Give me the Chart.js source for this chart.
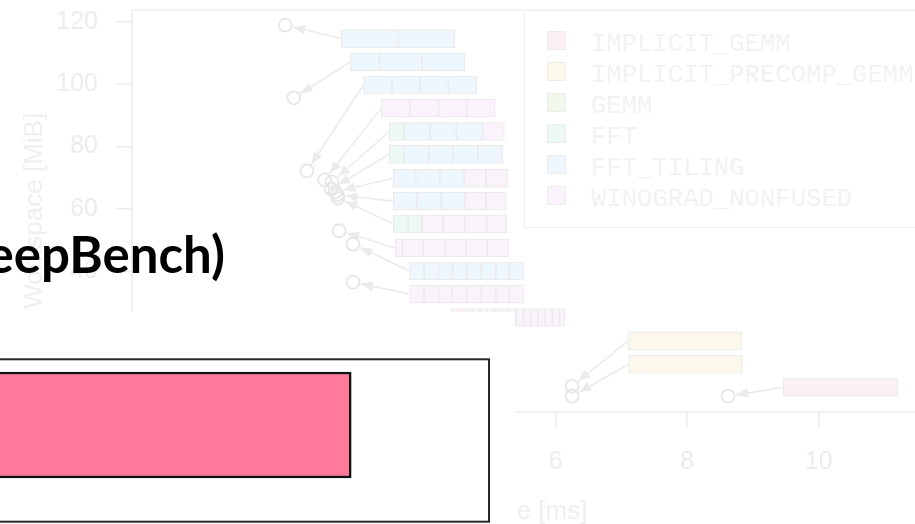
<!DOCTYPE html>
<html>
<head>
<meta charset="utf-8">
<script src="https://cdn.jsdelivr.net/npm/chart.js@4/dist/chart.umd.min.js"></script>
<style>
  html, body { margin: 0; padding: 0; width: 915px; height: 524px; overflow: hidden; background: #fff; }
  #bg { position: absolute; left: 0; top: 0; }
  #legendBox { position: absolute; left: 524px; top: 9.5px; width: 402px; height: 218px; border: 1.5px solid #efefef; box-sizing: border-box; }
  .key { position: absolute; width: 19px; height: 19px; box-sizing: border-box; border: 1px solid #ececec; }
  .keyText { position: absolute; font-family: "Liberation Mono", monospace; font-size: 25.6px; line-height: 1; color: #f3f1f1; white-space: nowrap; }
  #front { position: absolute; left: 0; top: 312px; width: 515px; height: 212px; background: #fff; overflow: hidden; }
  #fg { position: absolute; left: -400px; top: 0; }
  #title { position: absolute; right: 690px; top: 228px; font-family: Lato, "Open Sans", sans-serif; font-weight: bold; font-size: 51px; line-height: 1; color: #000; white-space: nowrap; }
</style>
</head>
<body>
<canvas id="bg" width="960" height="540"></canvas>
<div id="legendBox"></div>
<div id="front"><canvas id="fg" width="915" height="212"></canvas></div>
<div id="title">(DeepBench)</div>

<script>
// algorithms (legend)
const algoNames = ['IMPLICIT_GEMM', 'IMPLICIT_PRECOMP_GEMM', 'GEMM', 'FFT', 'FFT_TILING', 'WINOGRAD_NONFUSED'];
const algoCodes = ['I', 'P', 'G', 'F', 'T', 'W'];

// measured points: runtime [ms] vs workspace [MiB]
const pointTime = [1.89, 2.02, 2.22, 2.49, 2.60, 2.59, 2.65, 2.68, 2.69, 2.71, 2.92, 2.92, 3.20, 6.25, 6.25, 8.62];
const pointWorkspace = [118.9, 95.6, 72.2, 69.3, 68.6, 66.4, 65.5, 64.5, 63.5, 53.0, 48.7, 36.5, 18.0, 3.2, 0, 0];

// label boxes: left edge [ms], centre [MiB], algorithm per cell, cell widths [ms]
const labelTime = [2.74, 2.88, 3.08, 3.35, 3.47, 3.47, 3.53, 3.53, 3.53, 3.56, 3.78, 3.78, 4.41, 7.10, 7.11, 9.46];
const labelWorkspace = [114.6, 107.1, 99.7, 92.3, 84.8, 77.5, 69.8, 62.5, 55.2, 47.5, 40.1, 32.7, 25.2, 17.7, 10.2, 2.8];
const cellAlgo = ['TT', 'TTT', 'TTTT', 'WWWW', 'FTTTW', 'FTTTT', 'TTTWW', 'TTTWW', 'FFWWWW', 'WWWWWW',
  'TTTTTTTT', 'WWWWWWWW', 'WWWWWWWWWWWWWWWW', 'P', 'P', 'I'];
const cellWidth = [
  [0.87, 0.86],
  [0.44, 0.65, 0.65],
  [0.43, 0.43, 0.43, 0.43],
  [0.44, 0.43, 0.43, 0.43],
  [0.22, 0.40, 0.40, 0.40, 0.33],
  [0.22, 0.38, 0.37, 0.38, 0.38],
  [0.34, 0.37, 0.37, 0.33, 0.33],
  [0.36, 0.37, 0.36, 0.32, 0.31],
  [0.23, 0.21, 0.32, 0.33, 0.33, 0.31],
  [0.11, 0.32, 0.33, 0.32, 0.32, 0.33],
  [0.22, 0.22, 0.21, 0.22, 0.22, 0.22, 0.21, 0.22],
  [0.22, 0.22, 0.21, 0.22, 0.22, 0.22, 0.21, 0.22],
  [0.11, 0.11, 0.11, 0.11, 0.11, 0.11, 0.11, 0.11, 0.11, 0.11, 0.11, 0.11, 0.11, 0.11, 0.11, 0.08],
  [1.73],
  [1.73],
  [1.74]
];
const xTicks = [0, 2, 4, 6, 8, 10];
const yTicks = [0, 20, 40, 60, 80, 100, 120];

// foreground bar
const fgCategory = ['DeepBench'];
const fgValue = [0.845];

const algoFill = ['#fdf0f3', '#fcf8ec', '#f1f8ec', '#ecf9f4', '#edf7fd', '#fbf3fb'];
const faded = '#ececec';

// legend
algoNames.forEach((name, i) => {
  const sq = document.createElement('div');
  sq.className = 'key';
  sq.style.left = '547px';
  sq.style.top = (31 + i * 30.9) + 'px';
  sq.style.background = algoFill[i];
  document.body.appendChild(sq);
  const tx = document.createElement('div');
  tx.className = 'keyText';
  tx.style.left = '591px';
  tx.style.top = (32 + i * 30.9) + 'px';
  tx.textContent = name;
  document.body.appendChild(tx);
});

const cellDatasets = algoCodes.map((code, a) => ({
  type: 'bar',
  label: algoNames[a],
  indexAxis: 'y',
  grouped: false,
  barThickness: 18,
  backgroundColor: algoFill[a],
  borderColor: '#ebebeb',
  borderWidth: 1.2,
  borderSkipped: false,
  data: []
}));
labelTime.forEach((t0, r) => {
  let t = t0;
  cellAlgo[r].split('').forEach((code, k) => {
    const w = cellWidth[r][k];
    cellDatasets[algoCodes.indexOf(code)].data.push({ x: [t, t + w], y: labelWorkspace[r] });
    t += w;
  });
});

const arrowPlugin = {
  id: 'arrows',
  beforeDatasetsDraw(chart) {
    const { ctx, scales: { x, y } } = chart;
    ctx.save();
    ctx.strokeStyle = '#ebebeb';
    ctx.fillStyle = '#ebebeb';
    ctx.lineWidth = 1.6;
    labelTime.forEach((t, i) => {
      const x0 = x.getPixelForValue(t), y0 = y.getPixelForValue(labelWorkspace[i]);
      const x1 = x.getPixelForValue(pointTime[i]), y1 = y.getPixelForValue(pointWorkspace[i]);
      const ang = Math.atan2(y1 - y0, x1 - x0);
      const ex = x1 - Math.cos(ang) * 8, ey = y1 - Math.sin(ang) * 8;
      ctx.beginPath();
      ctx.moveTo(x0, y0);
      ctx.lineTo(ex, ey);
      ctx.stroke();
      ctx.beginPath();
      ctx.moveTo(ex, ey);
      ctx.lineTo(ex - Math.cos(ang - 0.38) * 13, ey - Math.sin(ang - 0.38) * 13);
      ctx.lineTo(ex - Math.cos(ang + 0.38) * 13, ey - Math.sin(ang + 0.38) * 13);
      ctx.closePath();
      ctx.fill();
    });
    ctx.restore();
  }
};

const boxPlugin = {
  id: 'box',
  beforeDatasetsDraw(chart, args, opts) {
    const { ctx, chartArea: a } = chart;
    ctx.save();
    ctx.strokeStyle = opts.color;
    ctx.lineWidth = opts.width;
    ctx.strokeRect(a.left, a.top, a.right - a.left, a.bottom - a.top);
    ctx.restore();
  }
};

new Chart(document.getElementById('bg'), {
  type: 'scatter',
  data: {
    datasets: [{
      type: 'scatter',
      label: 'points',
      data: pointTime.map((t, i) => ({ x: t, y: pointWorkspace[i] })),
      pointRadius: 6.5,
      pointBorderWidth: 1.8,
      pointBorderColor: '#e6e6e6',
      pointBackgroundColor: 'rgba(0,0,0,0)'
    }].concat(cellDatasets)
  },
  options: {
    responsive: false,
    animation: false,
    layout: { padding: { top: 10, right: 30, left: 0, bottom: 0 } },
    plugins: {
      legend: { display: false },
      tooltip: { enabled: false },
      box: { color: '#efefef', width: 1.5 }
    },
    scales: {
      x: {
        type: 'linear',
        min: -0.444,
        max: 11.69,
        offset: false,
        afterBuildTicks: s => { s.ticks = xTicks.map(v => ({ value: v })); },
        afterFit: s => { s.height = 128.3; s.paddingLeft = 0; s.paddingRight = 0; },
        grid: { display: true, offset: false, drawOnChartArea: false, tickLength: 16, color: faded, lineWidth: 1.5 },
        border: { display: true, color: faded, width: 1.5 },
        ticks: { color: faded, padding: 19, maxRotation: 0, font: { family: 'Liberation Sans', size: 25 } },
        title: { display: true, text: 'Time [ms]', color: '#efefef', font: { family: 'Liberation Sans', size: 26 }, padding: { top: 0, bottom: 12.7 } }
      },
      y: {
        type: 'linear',
        min: -5,
        max: 123.75,
        offset: false,
        afterBuildTicks: s => { s.ticks = yTicks.map(v => ({ value: v })); },
        afterFit: s => { s.width = 131.7; s.paddingTop = 0; s.paddingBottom = 0; },
        grid: { display: true, offset: false, drawOnChartArea: false, tickLength: 16, color: faded, lineWidth: 1.5 },
        border: { display: true, color: faded, width: 1.5 },
        ticks: { color: faded, padding: 17.7, font: { family: 'Liberation Sans', size: 25 } },
        title: { display: true, text: 'Workspace [MiB]', color: '#efefef', font: { family: 'Liberation Sans', size: 26 }, padding: { top: 19, bottom: 0 } }
      }
    }
  },
  plugins: [arrowPlugin, boxPlugin]
});

new Chart(document.getElementById('fg'), {
  type: 'bar',
  data: {
    datasets: [{
      label: fgCategory[0],
      data: fgValue.map((v, i) => ({ x: v, y: i })),
      indexAxis: 'y',
      barThickness: 106,
      backgroundColor: '#fe799b',
      borderColor: '#111111',
      borderWidth: 2.5,
      borderSkipped: false
    }]
  },
  options: {
    responsive: false,
    animation: false,
    indexAxis: 'y',
    layout: { padding: { top: 47.3, right: 26, bottom: 2.3, left: 0 } },
    plugins: {
      legend: { display: false },
      tooltip: { enabled: false },
      box: { color: '#262626', width: 2 }
    },
    scales: {
      x: { type: 'linear', min: 0, max: 1, display: false },
      y: { type: 'linear', min: -0.912, max: 0.62, display: false, offset: false }
    }
  },
  plugins: [boxPlugin]
});
</script>
</body>
</html>
